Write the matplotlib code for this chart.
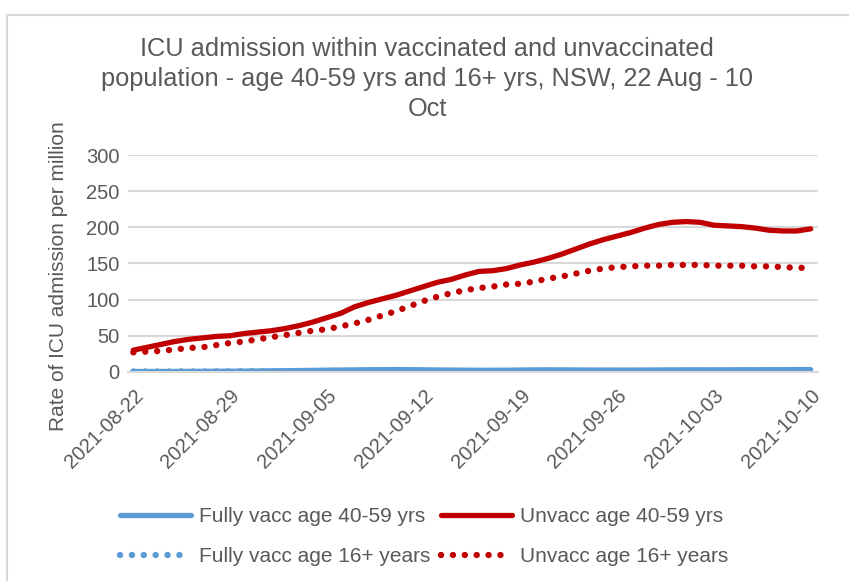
import matplotlib.pyplot as plt
import matplotlib.dates as mdates
import numpy as np
import pandas as pd
from matplotlib.patches import Rectangle

plt.rcParams['font.family'] = ['Liberation Sans', 'DejaVu Sans']

# Data (rate of ICU admission per million), daily 22 Aug - 10 Oct 2021
dates = pd.date_range('2021-08-22', '2021-10-10', freq='D')

fully_vacc_4059 = [0.5, 0.5, 0.5, 0.6, 0.6, 0.7, 0.8, 0.9, 1.0, 1.2,
                   1.4, 1.6, 1.8, 2.0, 2.3, 2.5, 2.7, 2.9, 3.0, 3.1,
                   3.0, 2.8, 2.6, 2.4, 2.3, 2.2, 2.2, 2.3, 2.5, 2.7,
                   2.8, 2.7, 2.6, 2.5, 2.5, 2.4, 2.4, 2.5, 2.6, 2.7,
                   2.8, 2.8, 2.8, 2.8, 2.9, 2.9, 3.0, 3.0, 3.1, 3.1]
unvacc_4059 = [30, 34, 38, 42, 45, 47, 49, 50, 53, 55,
               57, 60, 64, 69, 75, 81, 90, 96, 101, 106,
               112, 118, 124, 128, 134, 139, 140, 143, 148, 152,
               157, 163, 170, 177, 183, 188, 193, 199, 204, 207,
               208, 207, 203, 202, 201, 199, 196, 195, 195, 198]
fully_vacc_16 = [0.4, 0.4, 0.4, 0.5, 0.5, 0.5, 0.6, 0.6, 0.7, 0.8,
                 0.9, 1.0, 1.1, 1.2, 1.3, 1.4, 1.5, 1.6, 1.6, 1.6,
                 1.5, 1.4, 1.3, 1.2, 1.2, 1.1, 1.1, 1.1, 1.2, 1.3,
                 1.3, 1.3, 1.2, 1.2, 1.2, 1.2, 1.2, 1.3, 1.3, 1.4,
                 1.4, 1.5, 1.5, 1.5, 1.6, 1.6, 1.7, 1.7, 1.7, 1.8]
unvacc_16 = [27, 28, 29, 31, 33, 34, 37, 40, 42, 45,
             48, 51, 54, 57, 59, 63, 67, 72, 78, 84,
             91, 98, 104, 109, 113, 116, 118, 121, 122, 125,
             129, 132, 136, 140, 143, 145, 146, 147, 147, 148,
             148, 148, 147, 147, 147, 146, 146, 145, 144, 144]

tick_dates = pd.date_range('2021-08-22', '2021-10-10', freq='7D')

blue = '#5B9BD5'
red = '#C00000'
text_col = '#595959'
grid_col = '#D9D9D9'

fig = plt.figure(figsize=(8.49, 5.81), dpi=100)
ax = fig.add_axes([0.151, 0.360, 0.812, 0.373])

dot_style = dict(lw=4.6, ls=(0, (0.01, 1.85)), dash_capstyle='round')

l1, = ax.plot(dates, fully_vacc_4059, color=blue, lw=3.8, solid_capstyle='round',
              label='Fully vacc age 40-59 yrs')
l2, = ax.plot(dates, fully_vacc_16, color=blue, label='Fully vacc age 16+ years', **dot_style)
l3, = ax.plot(dates, unvacc_4059, color=red, lw=3.8, solid_capstyle='round',
              label='Unvacc age 40-59 yrs')
l4, = ax.plot(dates, unvacc_16, color=red, label='Unvacc age 16+ years', **dot_style)

ax.set_ylim(0, 300)
ax.set_yticks(np.arange(0, 301, 50))
ax.set_xlim(dates[0] - pd.Timedelta(hours=9), dates[-1] + pd.Timedelta(hours=12))
ax.set_xticks(tick_dates)
ax.xaxis.set_major_formatter(mdates.DateFormatter('%Y-%m-%d'))
plt.setp(ax.get_xticklabels(), rotation=45, ha='right', rotation_mode='anchor')

ax.grid(axis='y', color=grid_col, lw=1.5)
ax.set_axisbelow(True)
for s in ['top', 'right', 'left']:
    ax.spines[s].set_visible(False)
ax.spines['bottom'].set_color(grid_col)
ax.spines['bottom'].set_linewidth(1.5)
ax.tick_params(length=0, labelsize=14.5, labelcolor=text_col, pad=6)
ax.tick_params(axis='x', pad=10)

ax.set_ylabel('Rate of ICU admission per million', fontsize=15, color=text_col)
ax.yaxis.set_label_coords(-0.088, 0.44)

fig.text(0.503, 0.864, 'ICU admission within vaccinated and unvaccinated\n'
         'population - age 40-59 yrs and 16+ yrs, NSW, 22 Aug - 10\nOct',
         ha='center', va='center', fontsize=18.3, color=text_col, linespacing=1.3)

leg = fig.legend([l1, l2, l3, l4], [h.get_label() for h in [l1, l2, l3, l4]],
                 loc='center', bbox_to_anchor=(0.5, 0.076), ncol=2, frameon=False,
                 fontsize=15, handlelength=3.4, handletextpad=0.4, columnspacing=0.5,
                 labelspacing=1.0)
for t in leg.get_texts():
    t.set_color(text_col)

fig.patches.append(Rectangle((7 / 849, -0.1), 1.0, (581 - 15) / 581 + 0.1,
                             transform=fig.transFigure, fill=False,
                             edgecolor=grid_col, lw=1.5))

fig.savefig('out.png', dpi=100)
